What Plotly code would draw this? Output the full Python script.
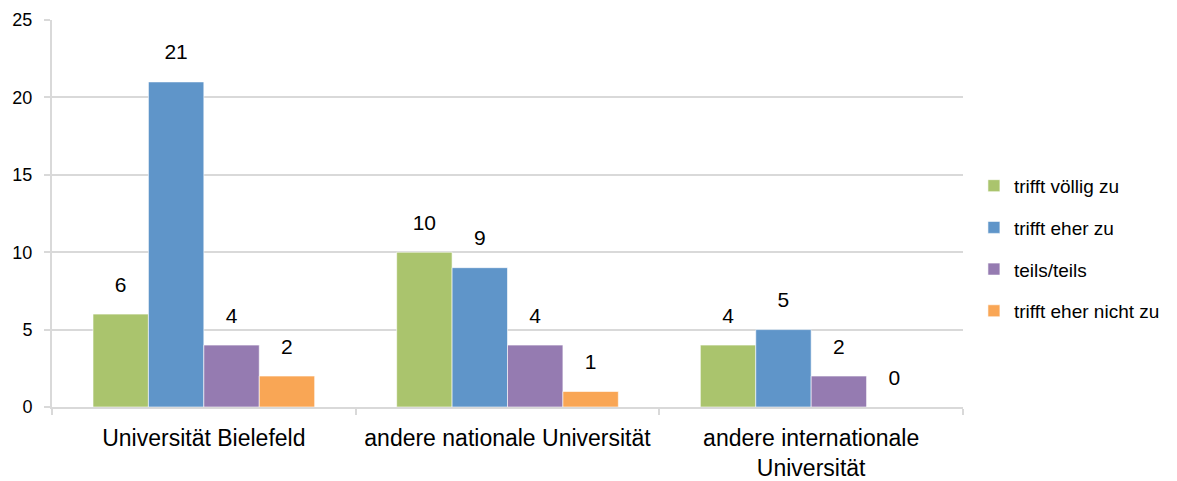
import plotly.graph_objects as go

categories = ["Universität Bielefeld", "andere nationale Universität",
              "andere internationale<br>Universität"]
series = ["trifft völlig zu", "trifft eher zu", "teils/teils", "trifft eher nicht zu"]
voellig = [6, 10, 4]
eher = [21, 9, 5]
teils = [4, 4, 2]
eher_nicht = [2, 1, 0]

values = [voellig, eher, teils, eher_nicht]
colors = ["#AAC46D", "#5F95C9", "#957BB1", "#F9A655"]

FONT = "Liberation Sans"
GRID = "#D9D9D9"
GAP = 0.27

fig = go.Figure()

for i, (name, vals, col) in enumerate(zip(series, values, colors)):
    fig.add_trace(go.Bar(
        x=categories,
        y=vals,
        name=name,
        legendgroup=name,
        offsetgroup=str(i),
        marker=dict(color=col, line=dict(color="rgba(255,255,255,0.6)", width=1)),
        hoverinfo="skip",
    ))

# data labels sitting a bit above each bar
for i, (name, vals) in enumerate(zip(series, values)):
    fig.add_trace(go.Scatter(
        x=categories,
        y=vals,
        mode="markers+text",
        text=[str(v) for v in vals],
        textposition="top center",
        textfont=dict(family=FONT, size=21, color="#000000"),
        marker=dict(size=26, opacity=0),
        offsetgroup=str(i),
        showlegend=False,
        cliponaxis=False,
        hoverinfo="skip",
    ))

# page body has an 8px margin, so the figure is a bit smaller than the window
fig.update_layout(
    width=1169,
    height=473,
    margin=dict(l=44, r=214, t=12, b=74),
    plot_bgcolor="white",
    paper_bgcolor="white",
    barmode="group",
    bargap=GAP,
    bargroupgap=0,
    scattermode="group",
    scattergap=GAP,
    font=dict(family=FONT, color="#000000"),
    legend=dict(
        x=1.012, y=0.41, xanchor="left", yanchor="middle",
        font=dict(family=FONT, size=19),
        tracegroupgap=14,
        traceorder="grouped",
    ),
)

fig.update_xaxes(
    automargin=False,
    showline=True, linecolor=GRID, linewidth=2,
    ticks="outside", tickson="boundaries", ticklen=6, tickcolor=GRID, tickwidth=2,
    tickfont=dict(family=FONT, size=23),
    tickangle=0,
    ticklabelstandoff=9,
    showgrid=False,
)

fig.update_yaxes(
    automargin=False,
    range=[0, 25], dtick=5,
    showline=True, linecolor=GRID, linewidth=2,
    showgrid=True, gridcolor=GRID, gridwidth=2,
    zeroline=False,
    ticks="outside", ticklen=6, tickcolor=GRID, tickwidth=2,
    tickfont=dict(family=FONT, size=18),
    ticklabelstandoff=8,
)

fig.write_html("out.html")
